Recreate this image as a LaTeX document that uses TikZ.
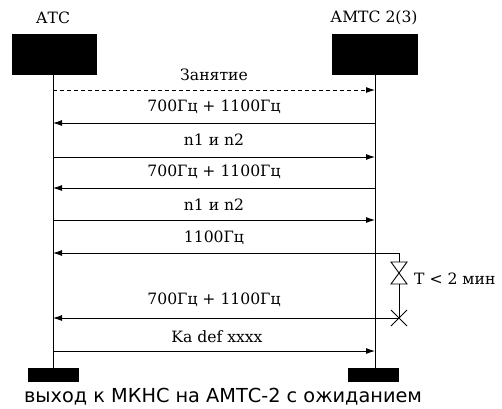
\documentclass[tikz,border=0pt]{standalone}
\usepackage{fontspec}
\setmainfont{DejaVu Serif}
\newfontfamily\capfont{DejaVu Sans}
\usetikzlibrary{arrows.meta}
\begin{document}
\begin{tikzpicture}[x=1pt,y=-1pt,
  blk/.style={fill=black,draw=black,inner sep=0pt,outer sep=0pt},
  lbl/.style={font=\fontsize{15.6}{17}\selectfont,inner sep=0pt},
  msg/.style={line width=0.9pt,-{Latex[length=9pt,width=6pt]}},
  life/.style={line width=0.9pt}]
\useasboundingbox (0,0) rectangle (502,408);
% header boxes
\node[blk,minimum width=84pt,minimum height=40pt] (atc) at (54,54) {};
\node[blk,minimum width=85pt,minimum height=40pt] (amtc) at (374.5,54) {};
\node[lbl] (atcl) at (53,18) {АТС};
\node[lbl] (amtcl) at (374,18) {АМТС 2(3)};
% footer boxes
\node[blk,minimum width=50pt,minimum height=13pt] (atcb) at (53,374.5) {};
\node[blk,minimum width=50pt,minimum height=13pt] (amtcb) at (373,374.5) {};
% lifeline coordinates
\coordinate (lt) at (53,74); \coordinate (lb) at (53,368);
\coordinate (rt) at (375,74); \coordinate (rb) at (375,368);
\draw[life] (lt) -- (lb);
\draw[life] (rt) -- (rb);
% message points
\foreach \n/\y in {1/90,2/123,3/157,4/188,5/220,6/253,7/318,8/351}{
  \coordinate (L\n) at (53,\y);
  \coordinate (R\n) at (375,\y);
}
\coordinate (V6) at (399,253);
\coordinate (V7) at (399,318);
\draw[msg,dashed,dash pattern=on 4pt off 3pt] (L1) -- (R1);
\draw[msg] (R2) -- (L2);
\draw[msg] (L3) -- (R3);
\draw[msg] (R4) -- (L4);
\draw[msg] (L5) -- (R5);
\draw[msg] (V6) -- (L6);
\draw[msg] (V7) -- (L7);
\draw[msg] (L8) -- (R8);
% labels
\node[lbl] (m1) at (214,75) {Занятие};
\node[lbl] (m2) at (214,107) {700Гц + 1100Гц};
\node[lbl] (m3) at (214,140) {n1 и n2};
\node[lbl] (m4) at (214,172) {700Гц + 1100Гц};
\node[lbl] (m5) at (214,205) {n1 и n2};
\node[lbl] (m6) at (214,238) {1100Гц};
\node[lbl] (m7) at (214,300) {700Гц + 1100Гц};
\node[lbl] (m8) at (217,337) {Ka def xxxx};
% timer valve
\coordinate (vt) at (399,262);
\coordinate (vm) at (399,273);
\coordinate (vb) at (399,284);
\draw[life] (V6) -- (vt);
\draw[life] (vt) ++(-8,0) -- ++(16,0) -- (vm) -- cycle;
\draw[life] (vb) ++(-8,0) -- ++(16,0) -- (vm) -- cycle;
\draw[life] (vb) -- (V7);
\draw[life] (V7) ++(-8,-8) -- ++(16,16);
\draw[life] (V7) ++(-8,8) -- ++(16,-16);
\node[lbl,anchor=west] (tl) at (414,279) {Т < 2 мин};
% caption
\node[font=\capfont\fontsize{19.3}{21}\selectfont,inner sep=0pt] (cap) at (223,397) {выход к МКНС на АМТС-2 с ожиданием};
\end{tikzpicture}
\end{document}
